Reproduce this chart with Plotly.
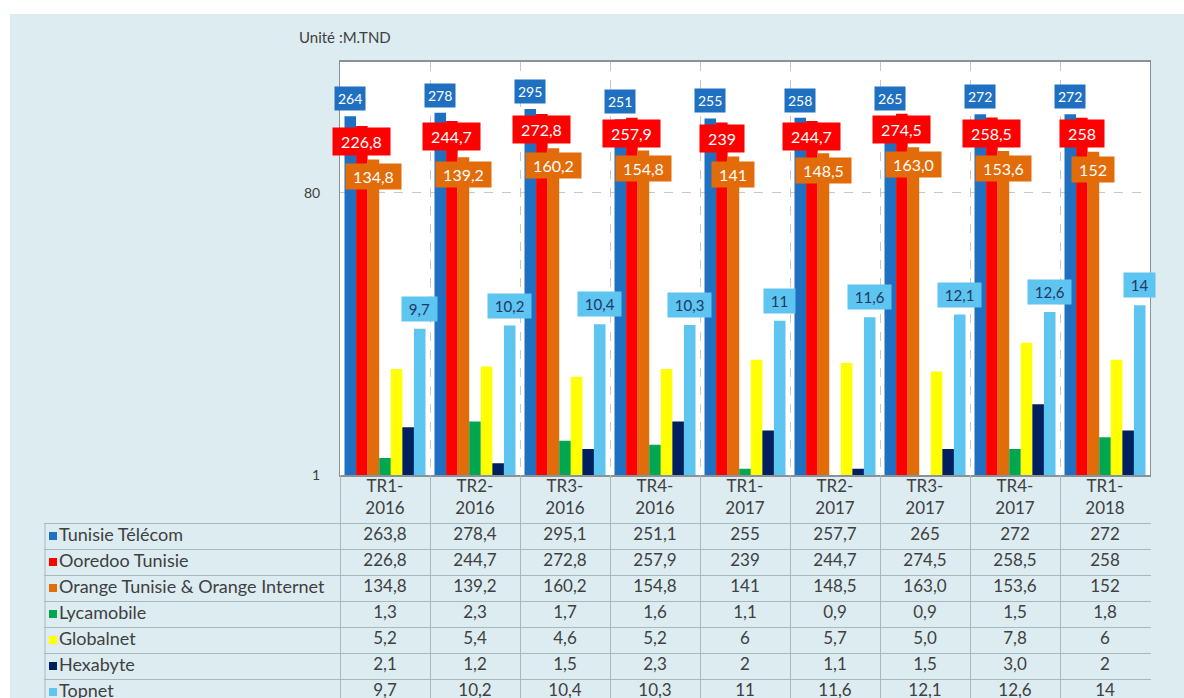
import plotly.graph_objects as go
import math

# ---------------- data ----------------
categories = ["TR1-2016", "TR2-2016", "TR3-2016", "TR4-2016", "TR1-2017",
              "TR2-2017", "TR3-2017", "TR4-2017", "TR1-2018"]

series_names = ["Tunisie Télécom", "Ooredoo Tunisie", "Orange Tunisie & Orange Internet",
                "Lycamobile", "Globalnet", "Hexabyte", "Topnet"]

tunisie_telecom = ["263,8", "278,4", "295,1", "251,1", "255", "257,7", "265", "272", "272"]
ooredoo = ["226,8", "244,7", "272,8", "257,9", "239", "244,7", "274,5", "258,5", "258"]
orange = ["134,8", "139,2", "160,2", "154,8", "141", "148,5", "163,0", "153,6", "152"]
lycamobile = ["1,3", "2,3", "1,7", "1,6", "1,1", "0,9", "0,9", "1,5", "1,8"]
globalnet = ["5,2", "5,4", "4,6", "5,2", "6", "5,7", "5,0", "7,8", "6"]
hexabyte = ["2,1", "1,2", "1,5", "2,3", "2", "1,1", "1,5", "3,0", "2"]
topnet = ["9,7", "10,2", "10,4", "10,3", "11", "11,6", "12,1", "12,6", "14"]

series_text = [tunisie_telecom, ooredoo, orange, lycamobile, globalnet, hexabyte, topnet]
colors = ["#1f70c1", "#ff0000", "#e36c0a", "#00a650", "#ffff00", "#002060", "#5ec4f0"]

y_tick_vals = [1, 80]
y_tick_text = ["1", "80"]
unit_label = "Unité :M.TND"


def num(s):
    return float(s.replace(",", "."))


series_vals = [[num(s) for s in arr] for arr in series_text]

# ---------------- geometry (pixels) ----------------
W, H = 1184, 698
ML, MR, MT, MB = 44, 33, 62, 0
plot_left_px, plot_right_px, plot_bottom_px = 340, 1150, 475
pw = W - ML - MR
ph = H - MT - MB
ncat = len(categories)
cat_px = (plot_right_px - plot_left_px) / ncat          # 90 px per category
x_dom = [(plot_left_px - ML) / pw, (plot_right_px - ML) / pw]
y_dom0 = (H - plot_bottom_px) / ph

# table subplot: x in category units, y in pixels below the plot
tab_x0 = -0.5 - (plot_left_px - ML) / cat_px
tab_x1 = -0.5 + (W - MR - plot_left_px) / cat_px
table_left = -0.5 - (plot_left_px - 45) / cat_px
tab_h = H - plot_bottom_px
header_h, row_h = 48, 26
row_lines = [header_h + row_h * r for r in range(len(series_names))]
row_centers = [header_h + row_h * r + row_h / 2 for r in range(len(series_names))]
key_x = -0.5 - (plot_left_px - 53) / cat_px

panel = "#dcecf1"
grid = "#c3c8cc"
tline = "#a9b8c0"
txt = "#404040"
FONT = "Lato, 'Open Sans', sans-serif"
NB = "\u00a0"

n = len(series_names)
bargap = 0.1
bw = (1 - bargap) / n
xs = list(range(ncat))

fig = go.Figure()
for i in range(n):
    fig.add_trace(go.Bar(
        x=xs, y=series_vals[i], name=series_names[i],
        marker=dict(color=colors[i], line=dict(width=0)),
        showlegend=False, hoverinfo="y+name"))

# ---------------- data labels ----------------
annotations = []
label_cfg = {
    0: dict(bg=colors[0], fc="white", anchor="bottom", shift=5, size=14, pad=3, fmt="int"),
    1: dict(bg=colors[1], fc="white", anchor="top", shift=-1, size=16, pad=4, fmt="txt"),
    2: dict(bg=colors[2], fc="white", anchor="top", shift=-4, size=16, pad=3, fmt="txt"),
    6: dict(bg=colors[6], fc="#203864", anchor="bottom", shift=7, size=15, pad=3, fmt="txt"),
}
for i, cfg in label_cfg.items():
    off = -(1 - bargap) / 2 + (i + 0.5) * bw
    for k, v in enumerate(series_vals[i]):
        if cfg["fmt"] == "int":
            t = str(int(round(v)))
        else:
            t = NB + series_text[i][k] + NB
        annotations.append(dict(
            x=k + off, y=math.log10(v), xref="x", yref="y", text=t,
            showarrow=False, yanchor=cfg["anchor"], xanchor="center",
            yshift=cfg["shift"], bgcolor=cfg["bg"], borderpad=cfg["pad"],
            font=dict(family=FONT, size=cfg["size"], color=cfg["fc"])))

annotations.append(dict(
    x=(297 - ML) / pw, y=(H - 37) / ph, xref="paper", yref="paper",
    text=unit_label, showarrow=False, xanchor="left", yanchor="middle",
    font=dict(family=FONT, size=15, color=txt)))

# ---------------- data table (text on its own axes) ----------------
fig.add_trace(go.Scatter(
    x=xs, y=[header_h / 2] * ncat, xaxis="x2", yaxis="y2", mode="text",
    text=[c.replace("-", "-<br>") for c in categories],
    textposition="middle center",
    textfont=dict(family=FONT, size=17, color=txt),
    showlegend=False, hoverinfo="skip"))

for r in range(n):
    fig.add_trace(go.Scatter(
        x=xs, y=[row_centers[r]] * ncat, xaxis="x2", yaxis="y2", mode="text",
        text=series_text[r], textposition="middle center",
        textfont=dict(family=FONT, size=17, color=txt),
        showlegend=False, hoverinfo="skip"))

fig.add_trace(go.Scatter(
    x=[key_x] * n, y=row_centers, xaxis="x2", yaxis="y2", mode="markers+text",
    text=series_names, textposition="middle right",
    marker=dict(symbol="square", size=8, color=colors, line=dict(width=0)),
    textfont=dict(family=FONT, size=18, color=txt),
    showlegend=False, hoverinfo="skip"))

# white page strips (left & top), white chart plot area, table left border
shapes = [
    dict(type="rect", xref="paper", yref="paper", x0=(0 - ML) / pw, x1=(10 - ML) / pw,
         y0=-0.01, y1=H / ph + 0.01, fillcolor="white", line=dict(width=0), layer="below"),
    dict(type="rect", xref="paper", yref="paper", x0=(0 - ML) / pw, x1=W / pw + 0.01,
         y0=(H - 14) / ph, y1=H / ph + 0.01, fillcolor="white", line=dict(width=0), layer="below"),
    dict(type="rect", xref="x domain", yref="y domain", x0=0, x1=1, y0=0, y1=1,
         fillcolor="white", line=dict(width=0), layer="below"),
    dict(type="line", xref="x2", yref="y2", x0=table_left, x1=table_left,
         y0=header_h, y1=tab_h, line=dict(color=tline, width=1)),
]

fig.update_layout(
    width=W, height=H,
    margin=dict(l=ML, r=MR, t=MT, b=MB, pad=0, autoexpand=False),
    paper_bgcolor=panel, plot_bgcolor=panel,
    barmode="group", bargap=bargap, bargroupgap=0,
    font=dict(family=FONT, color=txt),
    annotations=annotations, shapes=shapes,
    xaxis=dict(domain=x_dom, range=[-0.5, ncat - 0.5], anchor="y",
               tickvals=[k + 0.5 for k in range(ncat - 1)],
               showticklabels=False, ticks="",
               showgrid=True, gridcolor=grid, griddash="dash", gridwidth=1,
               showline=True, linecolor="#8a9299", linewidth=2, mirror=True,
               zeroline=False, fixedrange=True, automargin=False),
    yaxis=dict(domain=[y_dom0, 1], type="log", range=[0, 2.787], anchor="x",
               tickvals=y_tick_vals, ticktext=y_tick_text,
               showgrid=True, gridcolor=grid, griddash="dash", gridwidth=1,
               showline=True, linecolor="#8a9299", linewidth=1, mirror=True,
               ticks="", ticklabelstandoff=16,
               tickfont=dict(family=FONT, size=14, color=txt),
               zeroline=False, fixedrange=True, automargin=False),
    xaxis2=dict(domain=[0, 1], range=[tab_x0, tab_x1], anchor="y2",
                tickvals=[k - 0.5 for k in range(ncat + 1)],
                showticklabels=False, ticks="", showgrid=True,
                gridcolor=tline, gridwidth=1, showline=False,
                zeroline=False, fixedrange=True, automargin=False),
    yaxis2=dict(domain=[0, y_dom0], range=[tab_h, 0], anchor="x2",
                tickvals=row_lines, showticklabels=False, ticks="",
                showgrid=True, gridcolor=tline, gridwidth=1, showline=False,
                zeroline=False, fixedrange=True, automargin=False),
)

fig.write_html("out.html",
               config={"displayModeBar": False},
               post_script="document.body.style.margin='0';document.body.style.overflow='hidden';")
